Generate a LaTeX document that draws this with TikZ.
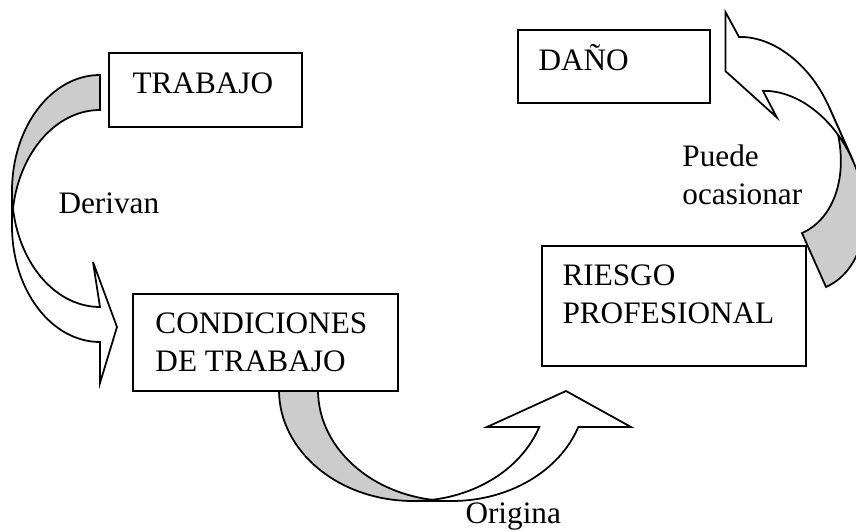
\documentclass[tikz,border=0pt]{standalone}
\usepackage{fontspec}
\setmainfont{Liberation Serif}
\usepackage{tikz}

\tikzset{
    box/.style={draw, fill=white, line width=0.7pt},
    back/.style={draw, fill=black!20, line width=0.7pt},
    front/.style={draw, fill=white, line width=0.7pt},
    txt/.style={inner sep=0pt, align=left, font=\fontsize{12.5}{15.4}\selectfont}
}

\begin{document}
\begin{tikzpicture}[x=0.4pt, y=-0.4pt]

    \useasboundingbox (0,0) rectangle (856,531);
    \clip (0,0) rectangle (856,531);

    \draw[back] (100,75) arc[start angle=270, end angle=180, x radius=88, y radius=116] -- (12,226) arc[start angle=180, end angle=270, x radius=88, y radius=116] -- cycle;
    \draw[front] (12,226) arc[start angle=180, end angle=90, x radius=88, y radius=116] -- (100,383) -- (117,327) -- (93,262) -- (100,307) arc[start angle=90, end angle=180, x radius=88, y radius=116] -- cycle;
    \node[txt, anchor=base west] (derivan) at (58,214) {Derivan};

    \draw[back] (279,390) arc[start angle=180, end angle=90, x radius=134, y radius=111] -- (452,501) arc[start angle=90, end angle=180, x radius=134, y radius=111] -- cycle;
    \draw[front] (452,501) arc[start angle=90, end angle=19.5, x radius=134, y radius=111] -- (631,427) -- (566,391) -- (487,427) -- (539.3,427) arc[start angle=19.5, end angle=90, x radius=134, y radius=111] -- cycle;
    \node[txt, anchor=base west] (origina) at (465,524) {Origina};

    \begin{scope}[shift={(826,287)}, rotate=24, yscale=-1]
        \draw[back] (0,0) arc[start angle=-90, end angle=0, x radius=76, y radius=104.7] -- (76,163.7) arc[start angle=0, end angle=-90, x radius=76, y radius=104.7] -- cycle;
        \draw[front] (76,163.7) arc[start angle=0, end angle=73, x radius=76, y radius=104.7] -- (20,292) -- (-4,238) -- (24,175) -- (22.2,204.8) arc[start angle=73, end angle=0, x radius=76, y radius=104.7] -- cycle;
    \end{scope}
    \node[txt, anchor=north west] (ocasionar) at (682,144) {Puede\\ocasionar};

    \draw[box] (109,53) rectangle (302,127);
    \node[txt, anchor=base west] (trabajo) at (132,94) {TRABAJO};

    \draw[box] (518,30) rectangle (710,103);
    \node[txt, anchor=base west] (dano) at (538,71) {DAÑO};

    \draw[box] (133,294) rectangle (398,391);
    \node[txt, anchor=north west] (condiciones) at (155,312) {CONDICIONES\\DE TRABAJO};

    \draw[box] (542,246) rectangle (806,366);
    \node[txt, anchor=north west] (riesgo) at (562,264) {RIESGO\\PROFESIONAL};

\end{tikzpicture}
\end{document}
